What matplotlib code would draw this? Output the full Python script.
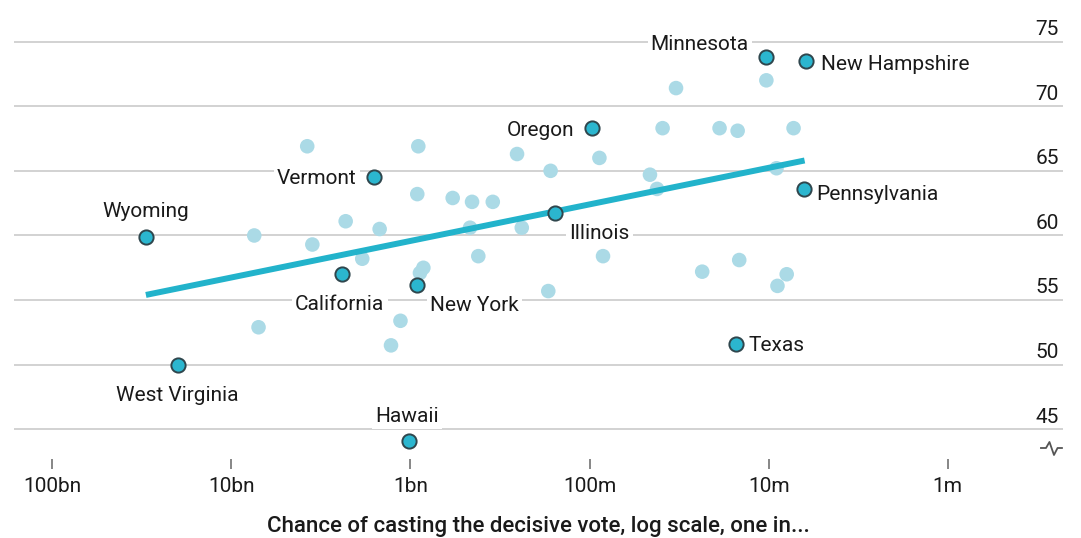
import matplotlib
matplotlib.use("Agg")
import matplotlib.pyplot as plt
from matplotlib.ticker import NullLocator

plt.rcParams["font.family"] = ["Roboto", "DejaVu Sans"]

# chance of casting the decisive vote: one in N million; turnout in %
named_states = ["Minnesota", "New Hampshire", "Oregon", "Vermont", "Wyoming", "Illinois",
                "Pennsylvania", "California", "New York", "Texas", "West Virginia", "Hawaii"]
named_odds_m = [10.3, 6.15, 97.5, 1600, 30100, 156, 6.35, 2420, 916, 15.2, 19900, 1020]
named_turnout = [73.8, 73.5, 68.3, 64.5, 59.9, 61.7, 63.6, 57.0, 56.2, 51.6, 50.0, 44.1]

other_odds_m = [3770, 904, 254, 165, 916, 581, 453, 347, 2300, 1486, 7450, 239, 465,
                3530, 1858, 418, 847, 885, 170, 7050, 1137, 1284,
                32.9, 10.3, 39.1, 18.8, 14.9, 7.26, 88.1, 46.0, 9.04, 42.0,
                84.1, 14.6, 23.5, 7.93, 8.93]
other_turnout = [66.9, 66.9, 66.3, 65.0, 63.2, 62.9, 62.6, 62.6, 61.1, 60.5, 60.0, 60.6, 60.6,
                 59.3, 58.2, 58.4, 57.5, 57.1, 55.7, 52.9, 53.4, 51.5,
                 71.4, 72.0, 68.3, 68.3, 68.1, 68.3, 66.0, 64.7, 65.2, 63.6,
                 58.4, 58.1, 57.2, 57.0, 56.1]

trend_odds_m = [30000, 6.3]
trend_turnout = [55.4, 65.8]

x_ticks = [100000, 10000, 1000, 100, 10, 1]
x_ticklabels = ["100bn", "10bn", "1bn", "100m", "10m", "1m"]
y_ticks = [45, 50, 55, 60, 65, 70, 75]

# label placement: offset in points from the dot, horizontal alignment
label_pos = {
    "Minnesota": (-12.6, 5.4, "right"),
    "New Hampshire": (10.4, -6.5, "left"),
    "Oregon": (-12.2, -5.8, "right"),
    "Vermont": (-12.5, -5.0, "right"),
    "Wyoming": (0, 14.0, "center"),
    "Illinois": (10.3, -18.7, "left"),
    "Pennsylvania": (8.6, -7.9, "left"),
    "California": (-1.4, -25.9, "center"),
    "New York": (9.1, -18.7, "left"),
    "Texas": (9.2, -5.0, "left"),
    "West Virginia": (-0.7, -25.8, "center"),
    "Hawaii": (-1.1, 13.5, "center"),
}

TEXT = "#1a1a1a"
FS = 15

fig = plt.figure(figsize=(10.81, 5.38), dpi=100)
ax = fig.add_axes([14 / 1081, 79 / 538, 1049 / 1081, 449 / 538])

ax.scatter(other_odds_m, other_turnout, s=110, color="#abdae6", edgecolors="none", zorder=2)
ax.plot(trend_odds_m, trend_turnout, color="#22b3cb", lw=4.3, solid_capstyle="butt", zorder=3)
ax.scatter(named_odds_m, named_turnout, s=105, color="#2bb6cf", edgecolors="#2f464d",
           linewidths=1.4, zorder=5)

for name, xo, yo in zip(named_states, named_odds_m, named_turnout):
    dx, dy, ha = label_pos[name]
    ax.annotate(name, xy=(xo, yo), xytext=(dx, dy), textcoords="offset points",
                ha=ha, va="baseline", fontsize=FS, color=TEXT, zorder=4,
                bbox=dict(boxstyle="square,pad=0.15", fc="white", ec="none"))

ax.set_xscale("log")
ax.set_xlim(163500, 0.2273)
ax.set_ylim(42.71, 77.44)
ax.xaxis.set_minor_locator(NullLocator())
ax.set_xticks(x_ticks)
ax.set_xticklabels(x_ticklabels)
ax.tick_params(axis="x", length=7, width=1.1, color="#666666", pad=6,
               labelsize=FS, labelcolor=TEXT)

ax.set_yticks(y_ticks)
ax.tick_params(axis="y", left=False, labelleft=False)
ax.grid(axis="y", color="#d2d2d2", lw=1.4)
ax.set_axisbelow(True)
for v in y_ticks:
    ax.annotate(str(v), xy=(1, v), xycoords=("axes fraction", "data"),
                xytext=(-2.9, 4.8), textcoords="offset points",
                ha="right", va="baseline", fontsize=FS, color=TEXT)

for sp in ax.spines.values():
    sp.set_visible(False)

# axis-break glyph below the 45 line
ax.plot([0.979, 0.9838, 0.9871, 0.9914, 0.9948, 0.999],
        [0.0245, 0.0245, 0.0379, 0.0089, 0.0245, 0.0245],
        transform=ax.transAxes, color="#555555", lw=1.3, clip_on=False)

fig.text(538 / 1081, 1 / 538, "Chance of casting the decisive vote, log scale, one in...",
         ha="center", va="bottom", fontsize=16, fontweight="medium", color=TEXT)

fig.savefig("out.png", dpi=100)
